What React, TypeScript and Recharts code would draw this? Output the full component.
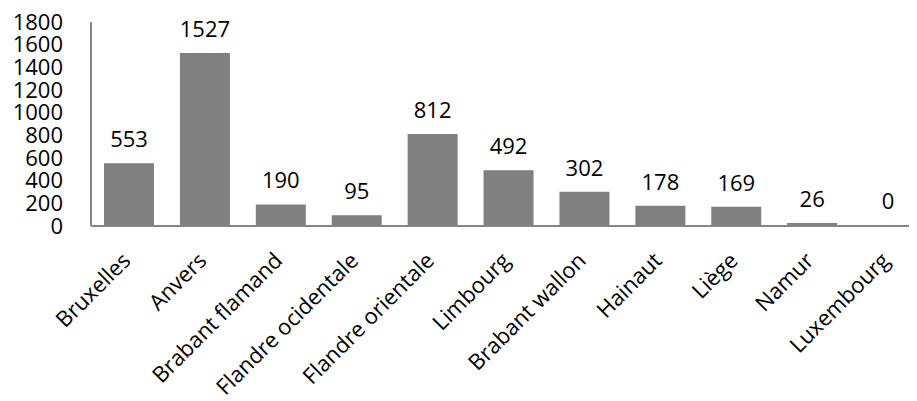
import React from "react";
import { BarChart, Bar, XAxis, YAxis, LabelList } from "recharts";

const provinces = [
  "Bruxelles",
  "Anvers",
  "Brabant flamand",
  "Flandre ocidentale",
  "Flandre orientale",
  "Limbourg",
  "Brabant wallon",
  "Hainaut",
  "Liège",
  "Namur",
  "Luxembourg",
];
const counts = [553, 1527, 190, 95, 812, 492, 302, 178, 169, 26, 0];
const yTicks = [0, 200, 400, 600, 800, 1000, 1200, 1400, 1600, 1800];

const data = provinces.map((name, i) => ({ name, value: counts[i] }));

const FONT = "'Open Sans', sans-serif";

function XTick(props: any) {
  const { x, y, payload } = props;
  return (
    <g transform={`translate(${x + 3},${y + 28})`}>
      <text
        x={0}
        y={0}
        textAnchor="end"
        transform="rotate(-45)"
        fontSize={22}
        fontFamily={FONT}
        fill="#000"
      >
        {payload.value}
      </text>
    </g>
  );
}

// label drawn for every bar, including the zero one
function ValueLabel(props: any) {
  const { x, y, width, value } = props;
  return (
    <text
      x={x + width / 2}
      y={y - 16}
      textAnchor="middle"
      fontSize={22}
      fontFamily={FONT}
      fill="#000"
    >
      {value}
    </text>
  );
}

export default function App() {
  return (
    <div style={{ width: 909, height: 393, overflow: "hidden" }}>
      <BarChart
        width={930}
        height={390}
        data={data}
        margin={{ top: 14, right: 12, left: 0, bottom: 0 }}
      >
        <XAxis
          dataKey="name"
          interval={0}
          height={172}
          tickLine={false}
          axisLine={{ stroke: "#868686", strokeWidth: 2 }}
          tick={<XTick />}
        />
        <YAxis
          width={83}
          domain={[0, 1800]}
          ticks={yTicks}
          interval={0}
          tickLine={false}
          tickSize={0}
          tickMargin={28}
          axisLine={{ stroke: "#868686", strokeWidth: 2 }}
          tick={{ fill: "#000", fontSize: 22, fontFamily: FONT }}
        />
        <Bar
          dataKey="value"
          fill="#808080"
          barSize={50}
          minPointSize={1}
          isAnimationActive={false}
        >
          <LabelList dataKey="value" content={<ValueLabel />} />
        </Bar>
      </BarChart>
    </div>
  );
}
